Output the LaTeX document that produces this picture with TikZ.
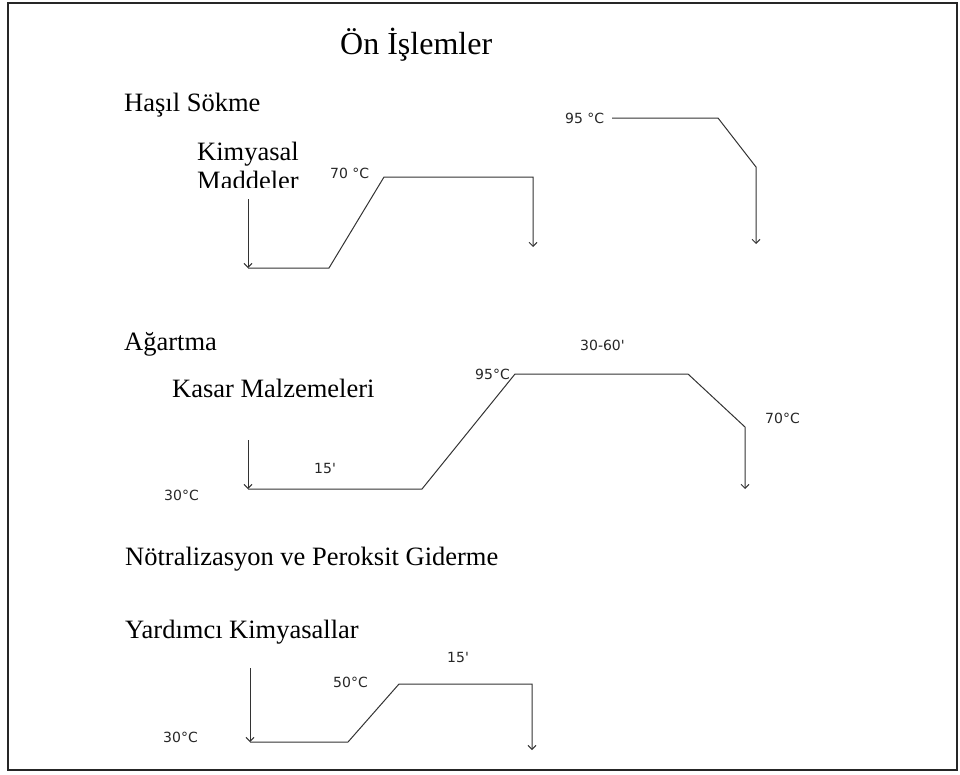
\documentclass[tikz,border=0pt]{standalone}
\usepackage{fontspec}
\setmainfont{Liberation Serif}
\newfontfamily\lblfont{DejaVu Sans}
\usetikzlibrary{arrows.meta}
\begin{document}
\begin{tikzpicture}[x=1pt,y=-1pt,
  titletext/.style={font=\fontsize{32}{38}\selectfont, anchor=base west, inner sep=0pt},
  headtext/.style={font=\fontsize{26.5}{29}\selectfont, anchor=base west, inner sep=0pt},
  lbl/.style={font=\lblfont\fontsize{14}{16}\selectfont, anchor=base west, inner sep=0pt, text=black!85},
  curve/.style={line width=1pt, draw=black!80, line join=miter},
  arr/.style={curve, -{Straight Barb[length=4pt,width=8pt]}},
  frame/.style={line width=2pt, draw=black!85}
]
\useasboundingbox (0,0) rectangle (960,774);
\draw[frame] (8,3) rectangle (957,770);

% titles
\node[titletext] (title) at (340,54) {Ön İşlemler};
\node[headtext] (hasil) at (124,111) {Haşıl Sökme};
\node[headtext] (kim) at (197,160) {Kimyasal};
\begin{scope}
  \clip (150,150) rectangle (330,187);
  \node[headtext] (madde) at (197,189) {Maddeler};
\end{scope}
\node[headtext] (agartma) at (124,350) {Ağartma};
\node[headtext] (kasar) at (172,397) {Kasar Malzemeleri};
\node[headtext] (notr) at (125,565) {Nötralizasyon ve Peroksit Giderme};
\node[headtext] (yard) at (125,638) {Yardımcı Kimyasallar};

% section 1
\coordinate (a1) at (248,199);
\coordinate (a2) at (248,268);
\coordinate (a3) at (329,268);
\coordinate (a4) at (384,177);
\coordinate (a5) at (533,177);
\coordinate (a6) at (533,247);
\draw[arr] (a1) -- (a2);
\draw[arr] (a2) -- (a3) -- (a4) -- (a5) -- (a6);
\node[lbl] (t70a) at (330,178) {70 °C};

\coordinate (b1) at (612,118);
\coordinate (b2) at (718,118);
\coordinate (b3) at (756,167);
\coordinate (b4) at (756,244);
\draw[arr] (b1) -- (b2) -- (b3) -- (b4);
\node[lbl] (t95a) at (565,123) {95 °C};

% section 2
\coordinate (c1) at (248,440);
\coordinate (c2) at (248,489);
\coordinate (c3) at (422,489);
\coordinate (c4) at (515,374);
\coordinate (c5) at (688,374);
\coordinate (c6) at (745,427);
\coordinate (c7) at (745,489);
\draw[arr] (c1) -- (c2);
\draw[arr] (c2) -- (c3) -- (c4) -- (c5) -- (c6) -- (c7);
\node[lbl] (t3060) at (580,350) {30-60'};
\node[lbl, anchor=base east] (t95b) at (510,379) {95°C};
\node[lbl] (t70b) at (765,423) {70°C};
\node[lbl] (t15a) at (314,473) {15'};
\node[lbl] (t30a) at (164,500) {30°C};

% section 4
\coordinate (d1) at (250,668);
\coordinate (d2) at (250,742);
\coordinate (d3) at (348,742);
\coordinate (d4) at (399,684);
\coordinate (d5) at (532,684);
\coordinate (d6) at (532,750);
\draw[arr] (d1) -- (d2);
\draw[arr] (d2) -- (d3) -- (d4) -- (d5) -- (d6);
\node[lbl] (t50) at (333,687) {50°C};
\node[lbl] (t15b) at (447,662) {15'};
\node[lbl] (t30b) at (163,742) {30°C};
\end{tikzpicture}
\end{document}
